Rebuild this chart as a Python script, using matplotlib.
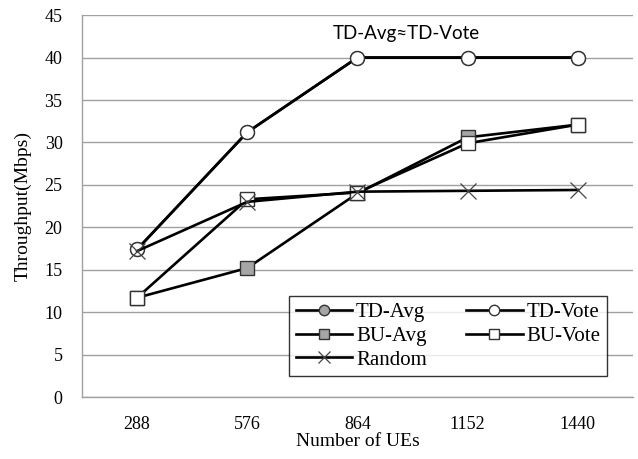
import numpy as np
import matplotlib
matplotlib.use("Agg")
import matplotlib.pyplot as plt

# number of UEs on the x axis
ues = ["288", "576", "864", "1152", "1440"]

# throughput (Mbps) per scheme
td_avg = [17.4, 31.2, 40.0, 40.0, 40.0]
td_vote = [17.4, 31.2, 40.0, 40.0, 40.0]
bu_avg = [11.7, 15.2, 24.0, 30.6, 32.1]
bu_vote = [11.7, 23.3, 24.1, 29.9, 32.1]
rand = [17.2, 23.0, 24.2, 24.3, 24.4]

plt.rcParams['font.family'] = ['Liberation Serif', 'DejaVu Serif']

fig = plt.figure(figsize=(6.38, 4.59), dpi=100)
ax = fig.add_axes([0.1285, 0.135, 0.8635, 0.832])

x = np.arange(len(ues))
lw = 1.9
h1, = ax.plot(x, td_avg, color='black', lw=lw, marker='o', ms=10,
              mfc='#a6a6a6', mec='#333333', mew=1.0, label='TD-Avg', zorder=3)
h2, = ax.plot(x, td_vote, color='black', lw=lw, marker='o', ms=10,
              mfc='white', mec='#333333', mew=1.0, label='TD-Vote', zorder=4)
h3, = ax.plot(x, bu_avg, color='black', lw=lw, marker='s', ms=9.5,
              mfc='#a6a6a6', mec='#333333', mew=1.0, label='BU-Avg', zorder=3)
h4, = ax.plot(x, bu_vote, color='black', lw=lw, marker='s', ms=9.5,
              mfc='white', mec='#333333', mew=1.0, label='BU-Vote', zorder=4)
h5, = ax.plot(x, rand, color='black', lw=lw, marker='x', ms=12,
              mec='#444444', mew=0.9, label='Random', zorder=5)

ax.set_xlim(-0.5, 4.5)
ax.set_ylim(0, 45)
ax.set_yticks(np.arange(0, 46, 5))
ax.set_xticks(x)
ax.set_xticklabels(ues)
ax.tick_params(length=0, labelsize=13)
ax.tick_params(axis='x', pad=14)
ax.tick_params(axis='y', pad=14)

ax.grid(axis='y', color='#a0a0a0', lw=1.0)
ax.set_axisbelow(True)
for s in ['top', 'right']:
    ax.spines[s].set_visible(False)
for s in ['left', 'bottom']:
    ax.spines[s].set_color('#a0a0a0')
    ax.spines[s].set_linewidth(1.0)

ax.set_xlabel('Number of UEs', fontsize=14, labelpad=0)
ax.set_ylabel('Throughput(Mbps)', fontsize=14, labelpad=9)

ax.text(2.44, 42.8, 'TD-Avg\u2248TD-Vote', ha='center', va='center',
        fontsize=13.5, family=['Lato', 'DejaVu Sans'])

leg = ax.legend(handles=[h1, h3, h5, h2, h4], ncol=2, loc='lower right',
                bbox_to_anchor=(0.953, 0.055), borderaxespad=0, fontsize=15,
                frameon=True, fancybox=False, edgecolor='black',
                handlelength=2.7, handletextpad=0.2, columnspacing=1.9,
                labelspacing=0.2, borderpad=0.3, markerscale=0.75)
leg.get_frame().set_linewidth(1.0)

fig.savefig('out.png', dpi=100)
